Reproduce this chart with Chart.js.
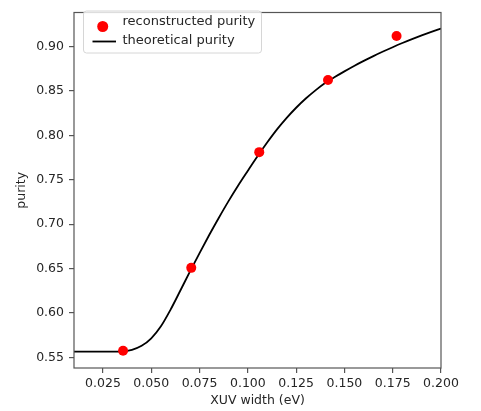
<!DOCTYPE html>
<html>
<head>
<meta charset="utf-8">
<script src="https://cdn.jsdelivr.net/npm/chart.js@4/dist/chart.umd.min.js"></script>
<style>
  html, body { margin: 0; padding: 0; background: #fff; }
  canvas { display: block; }
</style>
</head>
<body>
<canvas id="purityChart" width="481" height="411"></canvas>
<script>
// tick labels
const xTicks = [0.025, 0.050, 0.075, 0.100, 0.125, 0.150, 0.175, 0.200];
const yTicks = [0.55, 0.60, 0.65, 0.70, 0.75, 0.80, 0.85, 0.90];

// reconstructed purity (red dots)
const measuredWidth = [0.0354, 0.0707, 0.1059, 0.1415, 0.1770];
const measuredPurity = [0.5575, 0.6508, 0.7812, 0.8624, 0.9120];

// theoretical purity (black curve)
const theoryWidth = [0.010, 0.015, 0.020, 0.025, 0.030, 0.035, 0.040, 0.045, 0.050, 0.055,
                     0.060, 0.065, 0.070, 0.075, 0.080, 0.085, 0.090, 0.095, 0.100, 0.105,
                     0.110, 0.115, 0.120, 0.125, 0.130, 0.135, 0.140, 0.145, 0.150, 0.155,
                     0.160, 0.165, 0.170, 0.175, 0.180, 0.185, 0.190, 0.195, 0.200];
const theoryPurity = [0.5565, 0.5565, 0.5565, 0.5565, 0.5565, 0.5567, 0.5585, 0.5630, 0.5715, 0.5850,
                      0.6038, 0.6250, 0.6465, 0.6675, 0.6878, 0.7073, 0.7260, 0.7436, 0.7602, 0.7765,
                      0.7920, 0.8065, 0.8195, 0.8312, 0.8416, 0.8508, 0.8590, 0.8658, 0.8722, 0.8783,
                      0.8840, 0.8894, 0.8945, 0.8994, 0.9041, 0.9085, 0.9127, 0.9167, 0.9205];

const FONT = 'DejaVu Sans';
const TEXT = '#262626';
const FRAME = '#555555';

// frame around the plot area (all four spines)
const framePlugin = {
    id: 'frame',
    afterDraw(c) {
        const a = c.chartArea;
        const ctx = c.ctx;
        ctx.save();
        ctx.strokeStyle = FRAME;
        ctx.lineWidth = 1.2;
        ctx.strokeRect(a.left, a.top, a.right - a.left, a.bottom - a.top);
        ctx.restore();
    }
};

// matplotlib-like legend box in the upper left
const legendPlugin = {
    id: 'boxLegend',
    afterDraw(c) {
        const ctx = c.ctx;
        const x = 83.5, y = 11, w = 178, h = 42, r = 3;
        ctx.save();
        ctx.beginPath();
        ctx.roundRect(x, y, w, h, r);
        ctx.fillStyle = 'rgba(255,255,255,0.8)';
        ctx.fill();
        ctx.strokeStyle = '#d6d6d6';
        ctx.lineWidth = 1;
        ctx.stroke();

        ctx.beginPath();
        ctx.arc(102.7, 26.5, 5.5, 0, Math.PI * 2);
        ctx.fillStyle = '#ff0000';
        ctx.fill();

        ctx.beginPath();
        ctx.moveTo(92.5, 41.5);
        ctx.lineTo(116, 41.5);
        ctx.strokeStyle = '#000';
        ctx.lineWidth = 1.8;
        ctx.stroke();

        ctx.fillStyle = TEXT;
        ctx.font = '13px "' + FONT + '"';
        ctx.textBaseline = 'middle';
        ctx.fillText('reconstructed purity', 122.5, 21.5);
        ctx.fillText('theoretical purity', 122.5, 40.5);
        ctx.restore();
    }
};

function makeChart() {
    const ctx = document.getElementById('purityChart').getContext('2d');
    new Chart(ctx, {
        type: 'scatter',
        data: {
            datasets: [{
                label: 'reconstructed purity',
                data: measuredWidth.map((w, i) => ({ x: w, y: measuredPurity[i] })),
                backgroundColor: '#ff0000',
                borderColor: '#ff0000',
                pointRadius: 5,
                borderWidth: 0
            }, {
                label: 'theoretical purity',
                data: theoryWidth.map((w, i) => ({ x: w, y: theoryPurity[i] })),
                showLine: true,
                borderColor: '#000000',
                borderWidth: 1.8,
                pointRadius: 0,
                cubicInterpolationMode: 'monotone'
            }]
        },
        options: {
            responsive: false,
            animation: false,
            layout: { padding: { left: 0, right: 40, top: 4, bottom: 0 } },
            plugins: {
                legend: { display: false },
                tooltip: { enabled: false }
            },
            scales: {
                x: {
                    type: 'linear',
                    min: 0.010,
                    max: 0.200,
                    afterBuildTicks: s => { s.ticks = xTicks.map(v => ({ value: v })); },
                    afterFit: s => { s.height = 43; },
                    grid: { drawOnChartArea: false, drawTicks: true, tickLength: 5, color: FRAME, lineWidth: 1.2 },
                    border: { display: false },
                    ticks: {
                        padding: 3,
                        color: TEXT,
                        font: { family: FONT, size: 12.5 },
                        maxRotation: 0,
                        autoSkip: false,
                        callback: v => v.toFixed(3)
                    },
                    title: {
                        display: true,
                        text: 'XUV width (eV)',
                        color: TEXT,
                        font: { family: FONT, size: 12.5 },
                        padding: { top: 0, bottom: 2.5 }
                    }
                },
                y: {
                    type: 'linear',
                    min: 0.538,
                    max: 0.9385,
                    afterBuildTicks: s => { s.ticks = yTicks.map(v => ({ value: v })); },
                    afterFit: s => { s.width = 74; },
                    grid: { drawOnChartArea: false, drawTicks: true, tickLength: 5, color: FRAME, lineWidth: 1.2 },
                    border: { display: false },
                    ticks: {
                        padding: 5,
                        color: TEXT,
                        font: { family: FONT, size: 12.5 },
                        autoSkip: false,
                        callback: v => v.toFixed(2)
                    },
                    title: {
                        display: true,
                        text: 'purity',
                        color: TEXT,
                        font: { family: FONT, size: 12.5 },
                        padding: { top: 14.5, bottom: 0 }
                    }
                }
            }
        },
        plugins: [framePlugin, legendPlugin]
    });
}

window.onload = makeChart;
</script>
</body>
</html>
